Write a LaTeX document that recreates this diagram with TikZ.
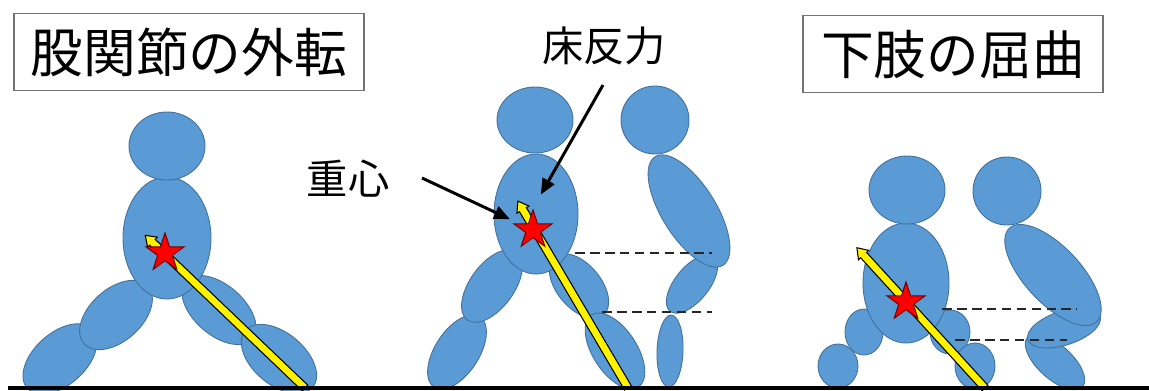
\documentclass[tikz,border=0pt]{standalone}
\usepackage{fontspec}
\newfontfamily\jpfont{Noto Sans CJK JP}
\usetikzlibrary{shapes,arrows.meta}
\definecolor{bodyblue}{RGB}{91,155,213}
\definecolor{bodyline}{RGB}{65,113,156}

\begin{document}
\begin{tikzpicture}[x=0.02cm,y=-0.02cm]

\tikzstyle{body} = [fill=bodyblue, draw=bodyline, line width=0.5pt]
\tikzstyle{headbox} = [draw=black!55, line width=0.8pt, inner sep=0,
    minimum height=1.55cm, font=\jpfont\fontsize{30}{34}\selectfont]
\tikzstyle{tag} = [inner sep=0, font=\jpfont\fontsize{23.5}{28}\selectfont]
\tikzstyle{cog} = [star, star points=5, star point ratio=2.6, minimum size=0.8cm,
    inner sep=0, fill=red, draw=red!45!black, line width=0.6pt]
\tikzstyle{grf} = [fill=yellow, draw=black, line width=0.6pt, line join=miter]
\tikzstyle{pointer} = [line width=1.7pt, -{Triangle[length=9pt,width=7.5pt]}]
\tikzstyle{heightline} = [line width=1.4pt, black!85, dash pattern=on 5.5pt off 3pt]
\tikzstyle{ground} = [line width=1.9pt]

\useasboundingbox (0,0) rectangle (1149,390);

% =========================
% titles and labels
% =========================
\node[headbox, minimum width=7cm] (abduct) at (189,52) {股関節の外転};
\node[headbox, minimum width=6cm] (flex) at (953,54) {下肢の屈曲};

\node[tag] (cogtext) at (348,179) {重心};
\node[tag] (grftext) at (604,46) {床反力};

% =========================
% wide stance, front view
% =========================
\draw[body, rotate around={42:(60,359)}] (60,359) ellipse [x radius=44, y radius=26];
\draw[body, rotate around={42:(116,315)}] (116,315) ellipse [x radius=43, y radius=26];
\draw[body, rotate around={-41:(219,310)}] (219,310) ellipse [x radius=44, y radius=25];
\draw[body, rotate around={-40:(279,359)}] (279,359) ellipse [x radius=44, y radius=26];
\draw[body] (167,238) ellipse [x radius=44, y radius=61];
\draw[body] (167,146) ellipse [x radius=38, y radius=34];

\begin{scope}[shift={(305,388)}, rotate=136.3]
\draw[grf] (0,-4) -- (211,-4) -- (211,-7) -- (221,0) -- (211,7) -- (211,4) -- (0,4) -- cycle;
\end{scope}
\node[cog] (star1) at (165,253) {};

% =========================
% leaning stance, front view
% =========================
\draw[body, rotate around={57:(457,352)}] (457,352) ellipse [x radius=42, y radius=22];
\draw[body, rotate around={54:(492,286)}] (492,286) ellipse [x radius=42, y radius=22];
\draw[body, rotate around={-50:(579,286)}] (579,286) ellipse [x radius=38, y radius=22];
\draw[body, rotate around={-57:(615,351)}] (615,351) ellipse [x radius=43, y radius=22];
\draw[body] (536,214) ellipse [x radius=42, y radius=60];
\draw[body] (535,120) ellipse [x radius=38, y radius=33];

\begin{scope}[shift={(628,388)}, rotate=120.5]
\draw[grf] (0,-4) -- (207,-4) -- (207,-7) -- (217,0) -- (207,7) -- (207,4) -- (0,4) -- cycle;
\end{scope}
\node[cog] (star2) at (533,230) {};

% side view
\draw[body, rotate around={88:(670,351)}] (670,351) ellipse [x radius=36, y radius=13];
\draw[body, rotate around={51:(692,284)}] (692,284) ellipse [x radius=35, y radius=17];
\draw[body, rotate around={-58:(689,211)}] (689,211) ellipse [x radius=64, y radius=27];
\draw[body] (655,120) ellipse [x radius=34, y radius=34];

% =========================
% squat, front view
% =========================
\draw[body] (838,366) ellipse [x radius=20, y radius=22];
\draw[body] (864,332) ellipse [x radius=19, y radius=23];
\draw[body] (950,332) ellipse [x radius=20, y radius=22];
\draw[body] (975,366) ellipse [x radius=20, y radius=23];
\draw[body] (906,283) ellipse [x radius=43, y radius=60];
\draw[body] (907,190) ellipse [x radius=38, y radius=34];

\begin{scope}[shift={(985,388)}, rotate=132.4]
\draw[grf] (0,-4) -- (180,-4) -- (180,-7) -- (190,0) -- (180,7) -- (180,4) -- (0,4) -- cycle;
\end{scope}
\node[cog] (star3) at (906,302) {};

% side view
\draw[body, rotate around={-42:(1055,362)}] (1055,362) ellipse [x radius=37, y radius=17];
\draw[body, rotate around={18:(1064,328)}] (1064,328) ellipse [x radius=38, y radius=17];
\draw[body, rotate around={-47:(1053,275)}] (1053,275) ellipse [x radius=64, y radius=28];
\draw[body] (1007,191) ellipse [x radius=34, y radius=34];

% =========================
% floor, hip and knee levels
% =========================
\draw[ground] (8,388) -- (1149,388);

\draw[heightline] (575,253) -- (712,253);
\draw[heightline] (602,312) -- (712,312);
\draw[heightline] (942,309) -- (1077,309);
\draw[heightline] (955,340) -- (1067,340);

% arrows from the labels
\coordinate (cogtail) at (422,178);
\coordinate (grftail) at (603,85);
\draw[pointer, shorten >=14.5pt] (cogtail) -- (star2.center);
\draw[pointer, shorten >=9pt] (grftail) -- (star2.north);

\end{tikzpicture}
\end{document}
